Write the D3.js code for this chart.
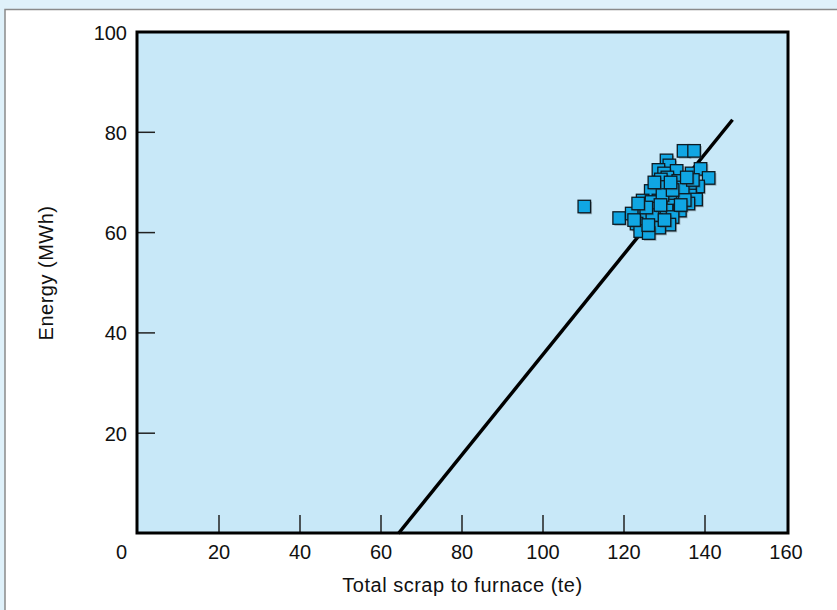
<!DOCTYPE html>
<html>
<head>
<meta charset="utf-8">
<script src="https://cdn.jsdelivr.net/npm/d3@7"></script>
<style>
  html, body { margin: 0; padding: 0; background: #ffffff; }
  svg { display: block; }
  text { font-family: "Liberation Sans", Arial, Helvetica, sans-serif; fill: #111; }
</style>
</head>
<body>
<svg id="chart" width="837" height="610"></svg>
<script>
// ---- Data ----
const xTicks = [0, 20, 40, 60, 80, 100, 120, 140, 160];
const yTicks = [20, 40, 60, 80, 100];
const xTitle = "Total scrap to furnace (te)";
const yTitle = "Energy (MWh)";

// Regression line endpoints (scrap te, energy MWh)
const lineX = [64.3, 146.8];
const lineY = [0, 82.5];

// Scatter points: scrap (te) and energy (MWh)
const scrap = [110.2, 118.8, 134.7, 137.3, 130.5, 131.2, 128.5, 133.0, 129.9, 136.7,
  138.9, 140.9, 130.7, 129.1, 133.4, 138.3, 136.3, 130.7, 129.3, 126.6,
  133.8, 136.3, 137.8, 131.4, 128.5, 124.6, 126.8, 135.9, 132.2, 128.0,
  133.8, 130.5, 124.7, 121.9, 132.0, 125.6, 127.9, 123.1, 131.2, 128.7,
  124.0, 126.1, 122.5, 127.0, 129.5, 134.5, 135.0, 127.5, 132.0, 125.5,
  130.0, 134.0, 129.0, 123.5, 126.0, 137.0, 131.5, 135.5];
const energy = [65.2, 62.9, 76.3, 76.3, 74.4, 73.4, 72.5, 72.3, 71.8, 71.8,
  72.7, 70.9, 71.0, 70.6, 70.3, 69.2, 69.4, 69.0, 69.1, 68.3,
  67.8, 67.4, 66.6, 66.8, 66.4, 66.4, 66.1, 65.8, 65.4, 64.8,
  64.4, 64.4, 64.1, 63.8, 63.1, 62.8, 62.5, 61.8, 61.6, 61.0,
  60.3, 59.9, 62.5, 63.5, 67.5, 69.0, 66.5, 70.0, 68.5, 65.0,
  62.5, 65.5, 65.5, 65.8, 61.5, 70.5, 70.0, 71.0];

// ---- Layout ----
const svg = d3.select("#chart");
const W = 837, H = 610;
const plot = { left: 137, right: 788, top: 32, bottom: 533 };

const x = d3.scaleLinear().domain([0, 160]).range([138, 786]);
const y = d3.scaleLinear().domain([0, 100]).range([533.5, 32]);

// Outer frame
svg.append("rect").attr("x", 0).attr("y", 0).attr("width", W).attr("height", H).attr("fill", "#dff1fa");
svg.append("rect").attr("x", 5).attr("y", 9.5).attr("width", W).attr("height", H)
  .attr("fill", "#ffffff").attr("stroke", "#8a8a8a").attr("stroke-width", 1.5);

// Plot background
svg.append("rect")
  .attr("x", plot.left).attr("y", plot.top)
  .attr("width", plot.right - plot.left).attr("height", plot.bottom - plot.top)
  .attr("fill", "#c8e8f8");

// Ticks (inward)
const g = svg.append("g");
g.selectAll(".xt").data(xTicks.filter(d => d > 0 && d < 160)).enter().append("line")
  .attr("x1", d => x(d)).attr("x2", d => x(d))
  .attr("y1", plot.bottom).attr("y2", plot.bottom - 18)
  .attr("stroke", "#222").attr("stroke-width", 1.5);
g.selectAll(".yt").data(yTicks.filter(d => d < 100)).enter().append("line")
  .attr("x1", plot.left).attr("x2", plot.left + 18)
  .attr("y1", d => y(d)).attr("y2", d => y(d))
  .attr("stroke", "#222").attr("stroke-width", 1.5);

// Regression line
svg.append("line")
  .attr("x1", x(lineX[0])).attr("y1", y(lineY[0]))
  .attr("x2", x(lineX[1])).attr("y2", y(lineY[1]))
  .attr("stroke", "#000").attr("stroke-width", 3.5);

// Points
const pts = scrap.map((s, i) => ({ s, e: energy[i] }));
const size = 12.5;
const pg = svg.append("g");
pts.forEach(p => {
  pg.append("rect")
    .attr("x", x(p.s) - size / 2 + 1.5).attr("y", y(p.e) - size / 2 + 1.5)
    .attr("width", size).attr("height", size)
    .attr("fill", "rgba(60,60,60,0.35)");
  pg.append("rect")
    .attr("x", x(p.s) - size / 2).attr("y", y(p.e) - size / 2)
    .attr("width", size).attr("height", size)
    .attr("fill", "#10a6e3").attr("stroke", "#0d1a22").attr("stroke-width", 1.3);
});

// Plot frame
svg.append("rect")
  .attr("x", plot.left).attr("y", plot.top)
  .attr("width", plot.right - plot.left).attr("height", plot.bottom - plot.top)
  .attr("fill", "none").attr("stroke", "#000").attr("stroke-width", 3);

// Tick labels
svg.selectAll(".xl").data(xTicks).enter().append("text")
  .attr("x", d => d === 0 ? 127 : x(d))
  .attr("y", 558.5)
  .attr("text-anchor", d => d === 0 ? "end" : "middle")
  .attr("font-size", 20)
  .text(d => d);
svg.selectAll(".yl").data(yTicks).enter().append("text")
  .attr("x", 127)
  .attr("y", d => y(d) + 7.5)
  .attr("text-anchor", "end")
  .attr("font-size", 20)
  .text(d => d);

// Axis titles
svg.append("text")
  .attr("x", (plot.left + plot.right) / 2).attr("y", 592)
  .attr("text-anchor", "middle").attr("font-size", 20)
  .attr("letter-spacing", 0.5)
  .text(xTitle);
svg.append("text")
  .attr("transform", "translate(53,273) rotate(-90)")
  .attr("text-anchor", "middle").attr("font-size", 20)
  .attr("letter-spacing", 0.5)
  .text(yTitle);
</script>
</body>
</html>
